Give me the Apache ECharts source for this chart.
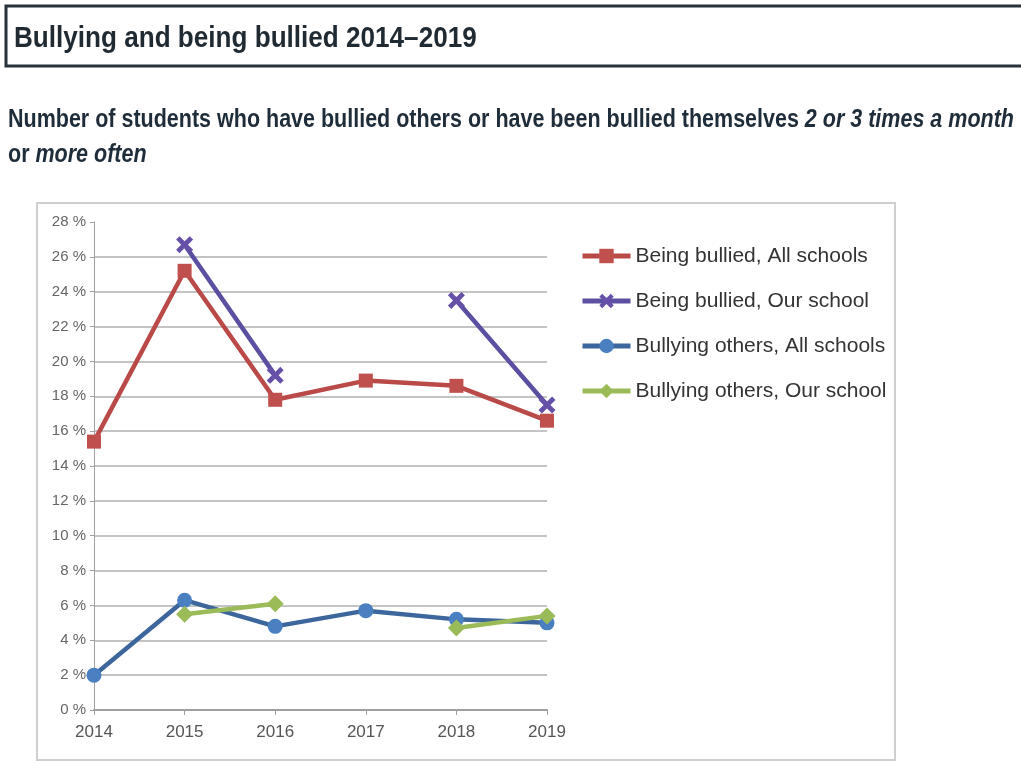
<!DOCTYPE html>
<html>
<head>
<meta charset="utf-8">
<script src="https://cdn.jsdelivr.net/npm/echarts@6/dist/echarts.min.js"></script>
<style>
html,body{margin:0;padding:0;background:#fff;}
#chart{width:1021px;height:763px;}
</style>
</head>
<body>
<div id="chart"></div>
<script>
var years = ['2014','2015','2016','2017','2018','2019'];
var bulliedAll = [15.4, 25.2, 17.8, 18.9, 18.6, 16.6];
var bulliedOur = [null, 26.7, 19.2, null, 23.5, 17.5];
var bullyingAll = [2.0, 6.3, 4.8, 5.7, 5.2, 5.0];
var bullyingOur = [null, 5.5, 6.1, null, 4.7, 5.4];
var seriesNames = ['Being bullied, All schools','Being bullied, Our school','Bullying others, All schools','Bullying others, Our school'];

var FN = '"Liberation Sans Narrow","Arial Narrow","Liberation Sans",sans-serif';
var xPath = 'path://M2,0 L5,3 L8,0 L10,2 L7,5 L10,8 L8,10 L5,7 L2,10 L0,8 L3,5 L0,2 Z';

var chart = echarts.init(document.getElementById('chart'));
function mk(name, data, color, symbol, size, lineColor){
  return {
    name: name, type: 'line', data: data, symbol: symbol, symbolSize: size,
    connectNulls: false,
    lineStyle: {width: 4.5, color: lineColor},
    itemStyle: {color: color},
    emphasis: {disabled: true}
  };
}
chart.setOption({
  animation: false,
  graphic: [
    {type:'rect', shape:{x:6,y:6,width:1040,height:60}, style:{fill:'#fff', stroke:'#27323c', lineWidth:3}},
    {type:'rect', shape:{x:37,y:203,width:858,height:557}, style:{fill:'#fff', stroke:'#cfcfcf', lineWidth:2}},
    {type:'text', x:14, y:24, scaleX:0.87, style:{text:'Bullying and being bullied 2014–2019', font:'bold 30px '+FN, fill:'#1f2a33'}},
    {type:'text', x:8, y:103, scaleX:0.86, style:{
      text:'{b|Number of students who have bullied others or have been bullied themselves }{i|2 or 3 times a month}\n{b|or }{i|more often}',
      rich:{
        b:{font:'bold 25px '+FN, fill:'#1f2d3a', lineHeight:35},
        i:{font:'italic bold 25px '+FN, fill:'#1f2d3a', lineHeight:35}
      }
    }}
  ],
  legend: {
    orient:'vertical', left:575, top:238,
    itemWidth:48, itemHeight:18, itemGap:19,
    lineStyle:{width:5},
    textStyle:{fontFamily:FN, fontSize:21, color:'#333', lineHeight:26},
    data: seriesNames
  },
  grid: {left:94, right:474, top:222, bottom:53, containLabel:false},
  xAxis: {
    type:'category', data: years, boundaryGap:false,
    axisLine:{lineStyle:{color:'#a0a0a0', width:2}},
    axisTick:{show:true, length:5, lineStyle:{color:'#a0a0a0'}},
    axisLabel:{fontFamily:FN, fontSize:17, color:'#555', margin:14}
  },
  yAxis: {
    type:'value', min:0, max:28, interval:2,
    axisLine:{show:true, lineStyle:{color:'#a0a0a0', width:1}},
    axisTick:{show:true, length:4, lineStyle:{color:'#a0a0a0'}},
    axisLabel:{fontFamily:FN, fontSize:15, color:'#666', margin:8, formatter:'{value} %'},
    splitLine:{showMaxLine:false, lineStyle:{color:'#c4c4c4', width:2}}
  },
  series: [
    mk(seriesNames[0], bulliedAll, '#c0504d', 'rect', 14, '#b94a48'),
    mk(seriesNames[1], bulliedOur, '#6650a8', xPath, 17, '#5a4fa0'),
    mk(seriesNames[2], bullyingAll, '#4a7fc1', 'circle', 15, '#3d679c'),
    mk(seriesNames[3], bullyingOur, '#9bbb59', 'diamond', 17, '#9bbb59')
  ]
});
</script>
</body>
</html>
